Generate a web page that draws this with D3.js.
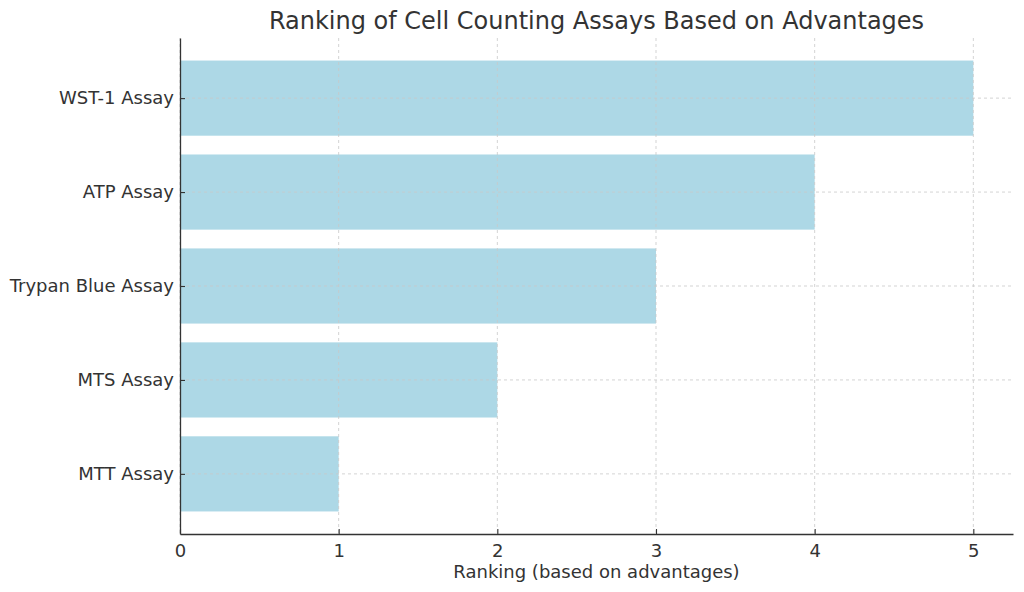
<!DOCTYPE html>
<html>
<head>
<meta charset="utf-8">
<script src="https://cdn.jsdelivr.net/npm/d3@7"></script>
<style>
  body { margin: 0; background: #fff; }
  text { font-family: "DejaVu Sans", sans-serif; fill: #333; }
</style>
</head>
<body>
<div id="chart"></div>
<script>
// Chart data
const assays = ["MTT Assay", "MTS Assay", "Trypan Blue Assay", "ATP Assay", "WST-1 Assay"];
const rankings = [1, 2, 3, 4, 5];
const xTicks = [0, 1, 2, 3, 4, 5];

const width = 1024, height = 592;
const margin = {top: 38, right: 11, bottom: 58, left: 180};

const svg = d3.select("#chart").append("svg")
    .attr("width", width)
    .attr("height", height);

const x = d3.scaleLinear()
    .domain([0, 5.25])
    .range([margin.left, width - margin.right]);

// category positions 0..n-1, bottom to top like matplotlib barh
const y = d3.scaleLinear()
    .domain([-0.64, assays.length - 1 + 0.64])
    .range([height - margin.bottom, margin.top]);

const barH = Math.abs(y(0.4) - y(-0.4));

// Bars
svg.append("g")
    .selectAll("rect")
    .data(assays)
    .enter()
    .append("rect")
    .attr("x", x(0))
    .attr("y", (d, i) => y(i + 0.4))
    .attr("width", (d, i) => x(rankings[i]) - x(0))
    .attr("height", barH)
    .style("fill", "#ADD8E6");

// Grid lines (drawn above bars)
const grid = svg.append("g").attr("class", "grid");
grid.selectAll(".vgrid")
    .data(xTicks)
    .enter()
    .append("line")
    .attr("x1", d => x(d)).attr("x2", d => x(d))
    .attr("y1", margin.top).attr("y2", height - margin.bottom)
    .style("stroke", "#c8c8c8")
    .style("stroke-width", 0.8)
    .style("stroke-dasharray", "3,3");
grid.selectAll(".hgrid")
    .data(assays)
    .enter()
    .append("line")
    .attr("x1", margin.left).attr("x2", width - margin.right)
    .attr("y1", (d, i) => y(i)).attr("y2", (d, i) => y(i))
    .style("stroke", "#c8c8c8")
    .style("stroke-width", 0.8)
    .style("stroke-dasharray", "3,3");

// X axis
const xAxis = svg.append("g")
    .attr("transform", `translate(0,${height - margin.bottom})`)
    .call(d3.axisBottom(x).tickValues(xTicks).tickFormat(d3.format("d"))
        .tickSizeInner(-5).tickSizeOuter(0).tickPadding(10));
xAxis.select(".domain").style("stroke", "#333").style("stroke-width", 1.3);
xAxis.selectAll(".tick line").style("stroke", "#333").style("stroke-width", 1.1);
xAxis.selectAll("text").style("font-size", "18px").style("fill", "#333");

// Y axis
const yAxis = svg.append("g")
    .attr("transform", `translate(${margin.left},0)`)
    .call(d3.axisLeft(y).tickValues(d3.range(assays.length)).tickFormat(i => assays[i])
        .tickSizeInner(-5).tickSizeOuter(0).tickPadding(6));
yAxis.select(".domain").style("stroke", "#333").style("stroke-width", 1.3);
yAxis.selectAll(".tick line").style("stroke", "#333").style("stroke-width", 1.1);
yAxis.selectAll("text").style("font-size", "18px").style("fill", "#333");

// X axis label
svg.append("text")
    .attr("x", (margin.left + width - margin.right) / 2)
    .attr("y", 578)
    .attr("text-anchor", "middle")
    .style("font-size", "18px")
    .text("Ranking (based on advantages)");

// Title
svg.append("text")
    .attr("x", (margin.left + width - margin.right) / 2)
    .attr("y", 29)
    .attr("text-anchor", "middle")
    .style("font-size", "24px")
    .text("Ranking of Cell Counting Assays Based on Advantages");
</script>
</body>
</html>
